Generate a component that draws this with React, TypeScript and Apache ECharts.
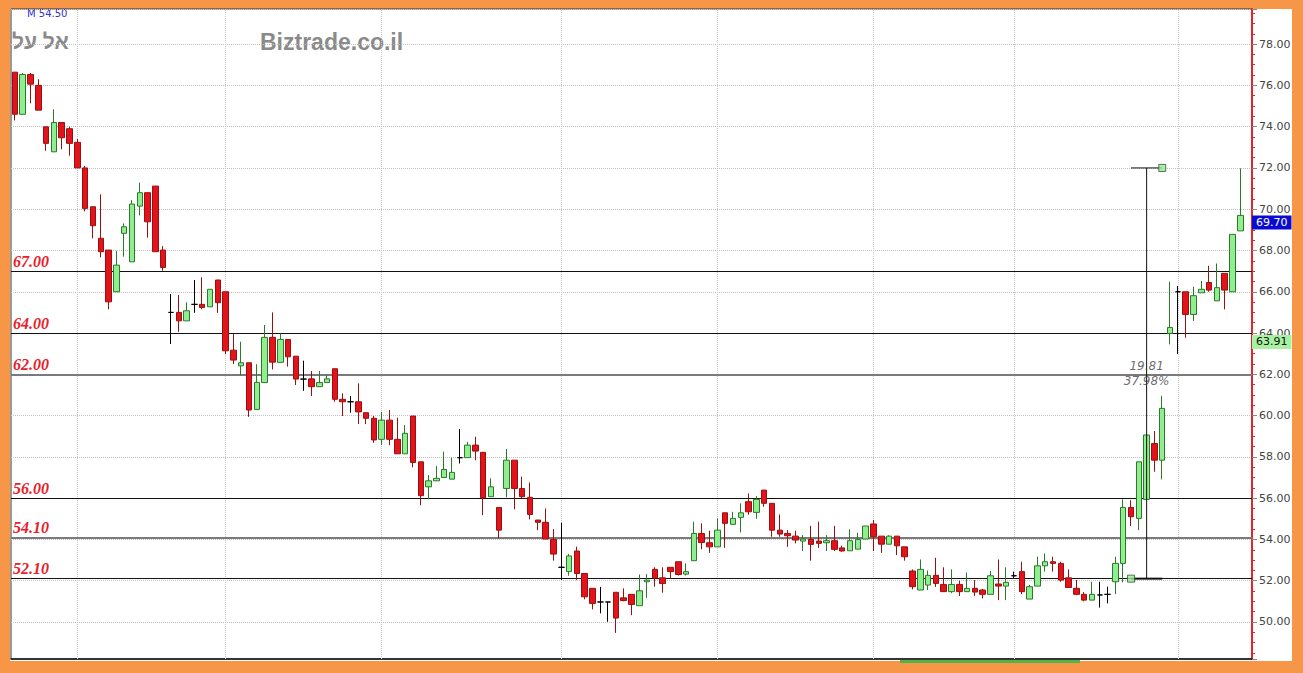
import React, { useEffect, useRef } from "react";
import * as echarts from "echarts";

// ---- data ----
const opens = [
  76.64, 74.6, 76.53, 76.0, 73.99, 72.78, 74.2, 73.9, 73.24, 72.0,
  70.12, 68.59, 68.02, 66.0, 68.83, 67.45, 70.15, 70.8, 71.12, 68.02,
  65.0, 65.0, 64.59, 65.39, 65.39, 65.27, 66.57, 66.0, 63.17, 62.41,
  62.56, 60.3, 61.6, 63.79, 62.58, 63.69, 62.88, 61.77, 61.78, 61.4,
  61.6, 62.27, 60.79, 60.67, 60.67, 60.14, 59.87, 58.85, 59.78, 58.85,
  58.15, 59.98, 57.76, 56.55, 56.84, 57.0, 56.92, 57.96, 57.96, 58.57,
  58.22, 56.07, 55.55, 56.47, 57.84, 56.47, 56.04, 54.94, 54.83, 54.0,
  52.65, 52.44, 53.44, 52.35, 51.63, 50.97, 50.97, 51.44, 51.17, 51.34,
  50.79, 51.95, 52.55, 52.14, 52.65, 52.92, 52.32, 52.97, 54.29, 53.84,
  53.64, 55.29, 54.73, 55.07, 55.83, 55.31, 56.39, 55.75, 54.45, 54.29,
  54.16, 53.92, 54.0, 53.92, 53.84, 53.94, 53.59, 53.45, 53.53, 54.02,
  54.75, 54.16, 53.77, 54.16, 53.64, 52.47, 51.55, 51.79, 52.26, 51.82,
  51.47, 51.82, 51.47, 51.63, 51.55, 51.34, 51.84, 51.74, 52.24, 52.44,
  51.11, 51.74, 52.72, 52.92, 52.84, 52.14, 51.63, 51.34, 51.06, 51.31,
  51.34, 51.95, 52.84, 55.55, 55.02, 55.94, 58.65, 57.84, 63.98, 66.0,
  66.0, 64.9, 65.95, 66.45, 65.56, 66.89, 66.0, 68.95,
];
const closes = [
  74.6, 76.53, 76.06, 74.8, 73.19, 74.2, 73.46, 73.19, 72.0, 70.04,
  69.2, 67.94, 65.51, 67.29, 69.15, 70.25, 70.8, 69.39, 67.94, 67.18,
  65.0, 64.59, 65.08, 65.39, 65.24, 66.12, 65.47, 63.14, 62.69, 62.56,
  60.27, 61.61, 63.79, 62.59, 63.69, 62.85, 61.77, 61.77, 61.4, 61.6,
  61.78, 60.79, 60.67, 60.67, 60.18, 59.87, 58.82, 59.78, 58.85, 58.15,
  59.14, 57.73, 56.12, 56.84, 56.96, 57.39, 57.25, 57.96, 58.57, 58.28,
  56.02, 56.55, 54.45, 57.84, 56.47, 56.07, 55.21, 54.83, 54.02, 53.29,
  52.65, 53.2, 52.35, 51.22, 50.9, 50.97, 50.97, 50.19, 51.04, 50.85,
  51.51, 52.03, 52.14, 51.86, 52.44, 52.3, 52.44, 54.29, 53.85, 53.64,
  54.45, 54.78, 55.02, 55.29, 55.34, 55.94, 55.75, 54.45, 54.26, 54.18,
  53.97, 54.02, 53.76, 53.81, 53.94, 53.52, 53.44, 53.94, 54.0, 54.65,
  54.13, 53.77, 54.16, 53.69, 53.16, 51.71, 52.55, 52.26, 51.87, 51.47,
  51.82, 51.47, 51.63, 51.45, 51.34, 52.24, 51.74, 51.92, 52.24, 51.47,
  51.71, 52.72, 52.92, 52.84, 52.03, 51.67, 51.34, 51.06, 51.34, 51.31,
  51.34, 52.84, 55.55, 55.1, 57.76, 59.06, 57.84, 60.35, 64.27, 66.0,
  64.9, 65.81, 66.12, 66.08, 66.2, 66.08, 68.78, 69.7,
];
const lows = [
  74.3, 74.6, 75.13, 74.8, 72.83, 72.78, 72.9, 72.59, 72.0, 69.9,
  68.59, 67.67, 65.15, 66.0, 67.7, 67.45, 69.7, 68.62, 67.94, 67.02,
  63.47, 64.06, 64.59, 64.98, 65.15, 65.27, 64.98, 62.98, 62.5, 61.96,
  59.94, 60.3, 61.6, 62.24, 62.58, 62.37, 61.48, 61.2, 60.95, 61.4,
  61.6, 60.67, 59.98, 60.14, 59.59, 59.59, 58.68, 58.57, 58.57, 58.15,
  58.15, 57.49, 55.66, 55.95, 56.84, 57.0, 56.92, 57.68, 57.96, 57.84,
  55.18, 56.07, 54.05, 56.04, 55.46, 56.0, 54.97, 54.45, 54.02, 52.97,
  52.03, 52.24, 52.03, 51.1, 50.61, 50.42, 50.01, 49.47, 51.0, 50.33,
  50.79, 51.17, 51.71, 51.42, 52.08, 52.25, 52.25, 52.97, 53.52, 53.35,
  53.64, 53.59, 54.73, 54.34, 55.2, 55.0, 55.58, 54.13, 54.13, 53.64,
  53.81, 53.44, 52.97, 53.59, 53.44, 53.44, 53.4, 53.45, 53.53, 54.02,
  53.44, 53.35, 53.77, 53.24, 52.97, 51.58, 51.55, 51.55, 51.7, 51.47,
  51.4, 51.26, 51.47, 51.26, 51.14, 51.34, 51.06, 51.06, 52.12, 51.35,
  51.11, 51.74, 52.44, 52.44, 51.95, 51.67, 51.3, 51.0, 51.06, 50.7,
  50.9, 51.35, 51.92, 54.65, 54.45, 55.94, 57.28, 56.91, 63.45, 62.98,
  63.77, 64.59, 65.95, 66.0, 65.56, 65.15, 66.0, 68.95,
];
const highs = [
  76.64, 76.6, 76.6, 76.3, 74.0, 74.84, 74.2, 74.0, 73.4, 72.1,
  70.12, 70.72, 68.02, 67.98, 69.31, 70.44, 71.28, 70.8, 71.12, 68.21,
  65.89, 65.84, 65.49, 66.57, 66.7, 66.12, 66.57, 66.0, 63.95, 63.58,
  62.56, 62.49, 64.39, 65.0, 63.98, 63.69, 62.88, 62.66, 62.16, 62.16,
  61.96, 62.27, 61.08, 60.95, 61.56, 60.14, 59.98, 60.18, 60.27, 59.9,
  59.54, 59.98, 57.76, 57.12, 57.55, 58.25, 57.96, 59.35, 58.73, 58.97,
  58.22, 56.96, 55.55, 58.38, 57.84, 57.04, 56.76, 54.94, 55.5, 54.5,
  54.81, 53.3, 53.65, 52.35, 51.63, 51.7, 50.97, 51.44, 51.63, 51.34,
  52.3, 52.32, 52.65, 52.65, 52.65, 52.92, 52.84, 54.86, 54.78, 54.42,
  55.02, 55.29, 55.34, 55.75, 56.23, 56.1, 56.39, 55.75, 55.21, 54.45,
  54.42, 54.21, 54.66, 54.86, 54.21, 54.66, 53.7, 54.49, 54.32, 54.65,
  54.94, 54.16, 54.2, 54.16, 53.64, 52.55, 53.03, 52.5, 53.11, 52.65,
  52.55, 52.0, 52.4, 52.03, 51.6, 52.47, 53.03, 52.65, 52.44, 52.92,
  51.8, 53.16, 53.32, 53.16, 52.92, 52.55, 52.03, 51.45, 51.95, 51.95,
  51.71, 53.16, 55.94, 55.9, 57.76, 59.06, 59.25, 60.96, 66.49, 66.28,
  66.0, 66.24, 66.52, 67.26, 67.37, 66.89, 68.78, 71.98,
];
const dojiIdx = [20, 23, 37, 43, 57, 70, 75, 76, 128, 139, 140, 149];
const monthDividers = [8, 27, 47, 70, 90, 110, 128, 149];
const levels = [67, 64, 62, 56, 54.1, 52.1];
const levelLabels = ["67.00", "64.00", "62.00", "56.00", "54.10", "52.10"];
const levelIsGray = [false, false, true, false, true, false];
const measureFrom = [143, 52.1];
const measureTo = [147, 72];
const measureMid = 145;
const measureTexts = ["19.81", "37.98%"];
const measureTextPrice = 62.06;
const lastPrice = 69.7;
const refPrice = 63.91;
const yMin = 48.207;
const yMax = 79.7;

export default function App() {
  const ref = useRef<HTMLDivElement>(null);
  useEffect(() => {
    if (!ref.current) return;
    const chart = echarts.init(ref.current, undefined, { renderer: "svg" });
    const slots = opens.length + 1;
    const categories = Array.from({ length: slots }, (_, i) => String(i + 1));
    const candleData = opens.map((o, i) => {
      const v = [o, closes[i], lows[i], highs[i]];
      return dojiIdx.includes(i)
        ? { value: v, itemStyle: { color: "#000", color0: "#000", borderColor: "#000", borderColor0: "#000" } }
        : v;
    });
    const fmt = (v: number) => v.toFixed(2);
    const option: any = {
      animation: false,
      grid: { left: 11, right: 51, top: 9, bottom: 14, show: true, borderColor: "#333", borderWidth: 1 },
      xAxis: {
        type: "category",
        data: categories,
        boundaryGap: true,
        axisLabel: { show: false },
        axisTick: { show: false },
        axisLine: { show: true, lineStyle: { color: "#111", width: 1.5 } },
        splitLine: { show: false },
      },
      yAxis: {
        type: "value",
        position: "right",
        min: yMin,
        max: yMax,
        splitNumber: 16,
        axisLine: { show: true, lineStyle: { color: "#e3262b", width: 2 } },
        axisTick: { show: true, length: 5, lineStyle: { color: "#888" } },
        minorTick: { show: true, splitNumber: 4, length: 3, lineStyle: { color: "#e3262b" } },
        axisLabel: {
          show: true,
          showMinLabel: false,
          showMaxLabel: false,
          formatter: fmt,
          color: "#444",
          fontSize: 11,
          fontFamily: "DejaVu Sans",
          margin: 7,
        },
        splitLine: { show: true, lineStyle: { color: "#c2c2c2", type: "dotted", width: 1 } },
      },
      graphic: [
        { type: "text", left: 12, top: 31, style: { text: "אל על", fill: "#8a8a8a", font: 'bold 21px "Liberation Sans"' } },
        { type: "text", left: 260, top: 30, style: { text: "Biztrade.co.il", fill: "#8a8a8a", font: 'bold 23px "Liberation Sans"' } },
        { type: "text", left: 27, top: 8, style: { text: "M 54.50", fill: "#3030d0", font: '10px "DejaVu Sans"' } },
        { type: "rect", shape: { x: 900, y: 660, width: 180, height: 3 }, style: { fill: "#4fb34a" } },
      ],
      series: [
        {
          type: "candlestick",
          data: candleData,
          barWidth: 6,
          z: 3,
          silent: true,
          itemStyle: {
            color: "#90EE90",
            color0: "#E3131B",
            borderColor: "#2a7a2a",
            borderColor0: "#9a1010",
            borderWidth: 1,
          },
          markLine: {
            silent: true,
            z: 1,
            symbol: ["none", "none"],
            animation: false,
            data: [
              ...monthDividers.map((d) => ({
                xAxis: d,
                lineStyle: { color: "#c8c8c8", type: "dotted", width: 1 },
                label: { show: false },
              })),
              ...levels.map((lv, k) => ({
                yAxis: lv,
                lineStyle: {
                  color: levelIsGray[k] ? "#7a7a7a" : "#111",
                  width: levelIsGray[k] ? 2 : 1,
                  type: "solid",
                },
                label: {
                  show: true,
                  position: "insideStartTop",
                  formatter: levelLabels[k],
                  color: "#e8202a",
                  fontStyle: "italic",
                  fontWeight: "bold",
                  fontFamily: "Liberation Serif",
                  fontSize: 16,
                  distance: 2,
                },
              })),
            ],
          },
        },
        {
          type: "line",
          data: [[measureFrom[0], measureTo[1]], [measureTo[0], measureTo[1]]],
          symbol: "none",
          z: 4,
          silent: true,
          lineStyle: { color: "#111", width: 1 },
        },
        {
          type: "line",
          data: [[measureMid, measureTo[1]], [measureMid, measureFrom[1]]],
          symbol: "none",
          z: 4,
          silent: true,
          lineStyle: { color: "#111", width: 1 },
        },
        {
          type: "line",
          data: [[measureFrom[0], measureFrom[1]], [measureTo[0], measureFrom[1]]],
          symbol: "none",
          z: 4,
          silent: true,
          lineStyle: { color: "#111", width: 2 },
        },
        {
          type: "scatter",
          data: [[measureTo[0], measureTo[1]], [measureFrom[0], measureFrom[1]]],
          symbol: "rect",
          symbolSize: 7,
          z: 5,
          clip: false,
          silent: true,
          itemStyle: { color: "#9be89b", borderColor: "#2d5a2d", borderWidth: 1 },
          markLine: {
            silent: true,
            z: 10,
            symbol: ["none", "none"],
            animation: false,
            data: [
              {
                yAxis: lastPrice,
                lineStyle: { color: "rgba(0,0,0,0)" },
                label: {
                  show: true,
                  position: "end",
                  formatter: fmt(lastPrice),
                  color: "#fff",
                  backgroundColor: "#0a0ad0",
                  padding: [2, 4, 1, 4],
                  fontSize: 11,
                  fontFamily: "DejaVu Sans",
                  distance: 0,
                  offset: [0, 7],
                },
              },
              {
                yAxis: refPrice,
                lineStyle: { color: "rgba(0,0,0,0)" },
                label: {
                  show: true,
                  position: "end",
                  formatter: fmt(refPrice),
                  color: "#111",
                  backgroundColor: "#a6f2a0",
                  padding: [2, 4, 1, 4],
                  fontSize: 11,
                  fontFamily: "DejaVu Sans",
                  distance: 0,
                  offset: [0, 7],
                },
              },
            ],
          },
        },
        {
          type: "scatter",
          data: [[measureMid, measureTextPrice]],
          symbolSize: 1,
          z: 6,
          clip: false,
          silent: true,
          itemStyle: { color: "rgba(0,0,0,0)" },
          label: {
            show: true,
            position: "inside",
            formatter: measureTexts.join("\n"),
            color: "#444",
            fontStyle: "italic",
            fontFamily: "DejaVu Sans",
            fontSize: 12,
            lineHeight: 15,
          },
        },
      ],
    };
    chart.setOption(option);
    return () => chart.dispose();
  }, []);
  return (
    <div style={{ position: "fixed", left: 0, top: 0, width: 1303, height: 673, background: "#F79646" }}>
      <div style={{ position: "absolute", left: 10, top: 9, width: 1282, height: 652, background: "#fff" }} />
      <div ref={ref} style={{ position: "absolute", left: 0, top: 0, width: 1303, height: 673 }} />
    </div>
  );
}
